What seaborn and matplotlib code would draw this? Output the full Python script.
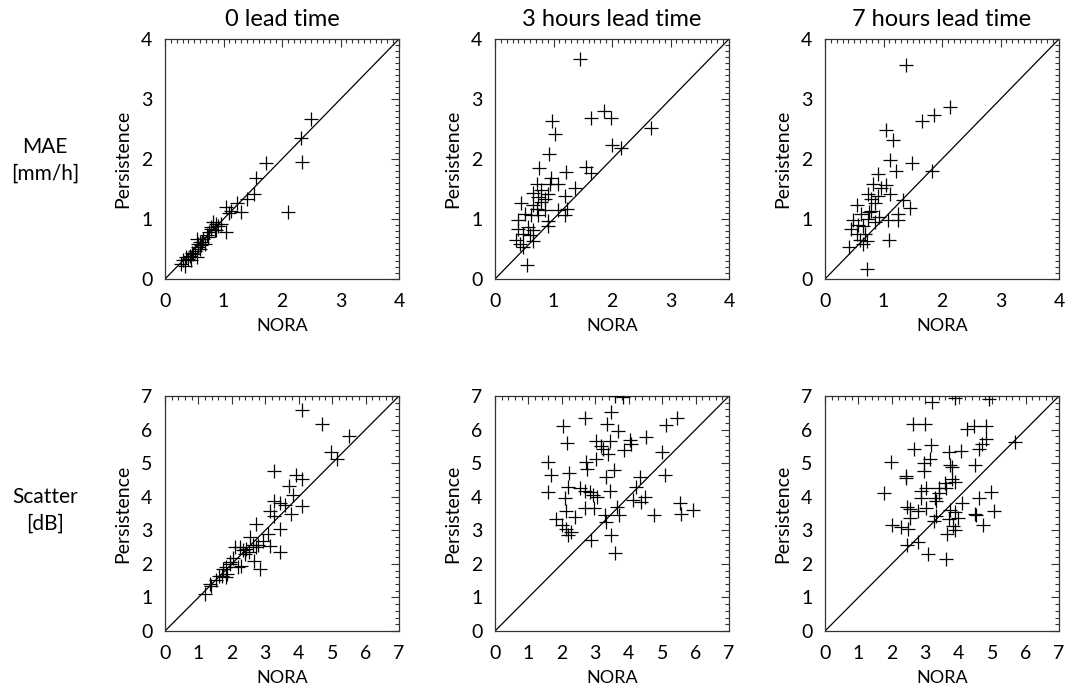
import numpy as np
import pandas as pd
import matplotlib
matplotlib.use("Agg")
import matplotlib.pyplot as plt
import seaborn as sns
from matplotlib.ticker import MultipleLocator

sns.set_style("white")
plt.rcParams['font.family'] = ['Lato', 'DejaVu Sans']
plt.rcParams['font.weight'] = 'normal'
plt.rcParams['text.color'] = 'black'
plt.rcParams['axes.labelcolor'] = 'black'
plt.rcParams['xtick.color'] = 'black'
plt.rcParams['ytick.color'] = 'black'

titles = ["0 lead time", "3 hours lead time", "7 hours lead time"]
row_labels = ["MAE\n[mm/h]", "Scatter\n[dB]"]

# MAE, 0 lead time
mae0_x = [2.50, 2.32, 2.35, 1.73, 1.56, 1.52, 1.40, 1.23, 1.30, 2.11, 1.05, 1.09, 1.04, 0.96, 0.88,
          0.82, 0.79, 0.88, 0.76, 0.71, 0.65, 0.59, 0.54, 0.62, 0.56, 0.51, 0.48, 0.42, 0.36, 0.54,
          0.31, 0.28, 0.34, 0.45, 0.59, 0.68, 0.74, 0.85, 0.91, 0.40, 0.47, 0.57, 0.64, 0.78, 1.12]
mae0_y = [2.66, 2.35, 1.95, 1.94, 1.69, 1.42, 1.34, 1.26, 1.12, 1.12, 1.20, 1.10, 0.78, 0.92, 0.92,
          0.95, 0.87, 0.82, 0.78, 0.73, 0.67, 0.61, 0.67, 0.56, 0.53, 0.47, 0.42, 0.39, 0.36, 0.36,
          0.31, 0.25, 0.22, 0.31, 0.50, 0.59, 0.70, 0.81, 0.89, 0.33, 0.44, 0.58, 0.62, 0.84, 1.14]

# MAE, 3 hours lead time
mae3_x = [1.46, 1.86, 1.64, 1.98, 2.67, 0.97, 1.02, 0.92, 2.00, 2.16, 0.76, 1.56, 1.64, 1.21, 0.96,
          0.71, 1.07, 1.36, 0.94, 0.65, 1.19, 0.91, 0.85, 0.79, 0.45, 0.65, 0.71, 1.07, 1.23, 1.19,
          0.51, 0.62, 0.74, 0.39, 0.91, 0.91, 0.39, 0.56, 0.65, 0.48, 0.59, 0.36, 0.42, 0.48, 0.65,
          0.55, 0.85, 0.74, 0.79]
mae3_y = [3.66, 2.80, 2.69, 2.69, 2.52, 2.64, 2.41, 2.09, 2.23, 2.19, 1.85, 1.87, 1.77, 1.79, 1.69,
          1.58, 1.58, 1.52, 1.59, 1.43, 1.38, 1.42, 1.34, 1.28, 1.26, 1.23, 1.17, 1.15, 1.16, 1.07,
          1.09, 1.06, 1.06, 0.98, 0.97, 0.89, 0.84, 0.87, 0.81, 0.75, 0.73, 0.65, 0.59, 0.53, 0.64,
          0.23, 1.15, 1.37, 1.48]

# MAE, 7 hours lead time
mae7_x = [1.39, 2.14, 1.86, 1.66, 1.04, 1.16, 1.11, 1.49, 1.22, 1.83, 0.91, 0.82, 1.05, 0.96, 0.74,
          1.11, 0.91, 1.33, 0.54, 0.85, 0.79, 1.46, 1.25, 0.62, 0.74, 0.93, 1.08, 1.25, 0.48, 0.85,
          0.65, 0.56, 0.45, 0.54, 0.68, 0.59, 1.09, 0.71, 0.65, 0.41, 0.72, 0.79, 0.76]
mae7_y = [3.56, 2.86, 2.74, 2.63, 2.49, 2.32, 1.99, 1.94, 1.80, 1.80, 1.75, 1.58, 1.56, 1.51, 1.42,
          1.41, 1.39, 1.32, 1.23, 1.26, 1.14, 1.18, 1.09, 1.09, 1.00, 1.03, 0.98, 0.98, 0.99, 0.95,
          0.89, 0.90, 0.84, 0.75, 0.75, 0.65, 0.65, 0.64, 0.59, 0.53, 0.17, 1.34, 1.12]

# Scatter, 0 lead time
sc0_x = [4.10, 4.70, 5.49, 4.96, 5.16, 3.25, 3.91, 4.10, 3.71, 3.83, 3.25, 3.45, 3.60, 4.11, 3.15,
         3.25, 3.78, 3.45, 3.08, 2.71, 3.15, 3.43, 2.83, 2.53, 2.63, 2.43, 2.33, 2.51, 2.71, 2.65,
         2.23, 2.08, 2.28, 2.18, 1.93, 2.03, 1.93, 1.83, 1.73, 1.85, 1.71, 1.83, 1.63, 1.53, 1.39,
         1.34, 1.19, 2.78, 2.93, 2.38]
sc0_y = [6.58, 6.18, 5.81, 5.33, 5.13, 4.78, 4.66, 4.53, 4.33, 4.06, 3.88, 3.81, 3.74, 3.71, 3.56,
         3.44, 3.50, 3.05, 2.90, 3.20, 2.53, 2.35, 1.85, 2.80, 2.57, 2.45, 2.40, 2.35, 2.50, 2.10,
         2.50, 2.50, 1.95, 1.90, 2.05, 2.17, 2.00, 1.90, 1.85, 1.70, 1.63, 1.60, 1.65, 1.53, 1.35,
         1.40, 1.10, 2.55, 2.67, 2.30]

# Scatter, 3 hours lead time
sc3_x = [3.58, 3.83, 3.46, 2.70, 5.45, 5.12, 3.36, 2.03, 3.68, 4.53, 2.15, 3.03, 3.43, 4.05, 4.08,
         3.18, 3.23, 3.86, 5.00, 3.38, 3.03, 2.73, 1.59, 2.76, 3.55, 2.21, 1.68, 5.10, 3.31, 4.33,
         2.17, 2.53, 4.23, 2.68, 1.59, 3.43, 2.83, 2.93, 3.05, 2.08, 4.48, 4.13, 4.38, 5.52, 5.92,
         5.57, 4.75, 2.13, 2.68, 2.96, 3.65, 3.71, 3.28, 3.31, 2.38, 1.81, 2.01, 2.11, 2.28, 2.18,
         3.46, 2.86, 3.58]
sc3_y = [7.00, 6.96, 6.51, 6.33, 6.33, 6.13, 6.18, 6.11, 5.96, 5.78, 5.61, 5.66, 5.66, 5.68, 5.56,
         5.51, 5.41, 5.38, 5.33, 5.28, 5.11, 5.03, 5.03, 4.84, 4.81, 4.71, 4.66, 4.66, 4.58, 4.58,
         4.30, 4.27, 4.30, 4.17, 4.15, 4.17, 4.15, 4.05, 3.98, 3.95, 4.00, 3.90, 3.85, 3.80, 3.60,
         3.50, 3.47, 3.57, 3.65, 3.67, 3.70, 3.45, 3.45, 3.25, 3.40, 3.33, 3.15, 3.05, 2.95, 2.85,
         2.85, 2.70, 2.33]

# Scatter, 7 hours lead time
sc7_x = [3.21, 3.90, 4.92, 2.63, 2.98, 4.45, 4.82, 4.24, 4.82, 4.69, 3.18, 2.66, 4.60, 3.71, 4.08,
         3.15, 1.98, 2.97, 3.73, 4.50, 3.81, 5.67, 2.97, 2.43, 2.43, 3.81, 3.90, 3.58, 3.63, 3.41,
         3.01, 2.88, 1.75, 4.97, 3.40, 3.28, 2.88, 3.33, 4.10, 4.60, 2.46, 2.53, 3.03, 2.78, 3.73,
         3.88, 5.07, 4.48, 4.53, 3.33, 2.53, 3.99, 3.71, 3.26, 3.83, 4.73, 2.01, 2.28, 2.48, 3.90,
         3.66, 2.45, 2.78, 3.08, 3.63]
sc7_y = [6.81, 6.94, 6.91, 6.16, 6.16, 6.11, 6.11, 6.01, 5.71, 5.56, 5.54, 5.41, 5.41, 5.34, 5.36,
         5.11, 5.03, 5.01, 4.95, 4.93, 4.88, 5.63, 4.76, 4.63, 4.55, 4.53, 4.43, 4.40, 4.27, 4.25,
         4.25, 4.17, 4.12, 4.15, 4.10, 3.95, 3.95, 3.87, 3.80, 3.95, 3.70, 3.63, 3.65, 3.57, 3.60,
         3.55, 3.57, 3.50, 3.45, 3.43, 3.37, 3.37, 3.35, 3.27, 3.13, 3.17, 3.15, 3.10, 3.05, 3.00,
         2.90, 2.55, 2.65, 2.30, 2.15]

panels = [
    [(mae0_x, mae0_y), (mae3_x, mae3_y), (mae7_x, mae7_y)],
    [(sc0_x, sc0_y), (sc3_x, sc3_y), (sc7_x, sc7_y)],
]
limits = [4, 7]
minors = [0.1, 0.2]

fig = plt.figure(figsize=(10.65, 6.93), dpi=100)
lefts = [165, 495, 825]
rows = [(39, 279), (396, 631)]
W, H = 1065.0, 693.0

for r in range(2):
    top, bot = rows[r]
    lim = limits[r]
    for c in range(3):
        ax = fig.add_axes([lefts[c] / W, 1 - bot / H, 234 / W, (bot - top) / H])
        xs, ys = panels[r][c]
        df = pd.DataFrame({"NORA": xs, "Persistence": ys})
        ax.plot([0, lim], [0, lim], color="black", lw=0.9)
        sns.scatterplot(data=df, x="NORA", y="Persistence", ax=ax, marker="+",
                        color="black", s=105, linewidth=0.9, zorder=3)
        ax.set_xlim(0, lim)
        ax.set_ylim(0, lim)
        ax.xaxis.set_major_locator(MultipleLocator(1))
        ax.yaxis.set_major_locator(MultipleLocator(1))
        ax.xaxis.set_minor_locator(MultipleLocator(minors[r]))
        ax.yaxis.set_minor_locator(MultipleLocator(minors[r]))
        ax.tick_params(which="both", direction="in", top=True, right=True,
                       color="#333333", width=0.8)
        ax.tick_params(which="major", length=6, labelsize=14)
        ax.tick_params(axis="x", which="major", pad=10)
        ax.tick_params(axis="y", which="major", pad=9)
        ax.tick_params(which="minor", length=3)
        for sp in ax.spines.values():
            sp.set_linewidth(0.9)
            sp.set_color("#333333")
        ax.set_xlabel("NORA", fontsize=13, labelpad=6)
        ax.set_ylabel("Persistence", fontsize=14, labelpad=7)
        if r == 0:
            ax.set_title(titles[c], fontsize=17, pad=9)

fig.text(45 / W, 1 - 160 / H, row_labels[0], ha="center", va="center", fontsize=15,
         linespacing=1.4)
fig.text(45 / W, 1 - 510 / H, row_labels[1], ha="center", va="center", fontsize=15,
         linespacing=1.4)

fig.savefig("out.png", dpi=100)
